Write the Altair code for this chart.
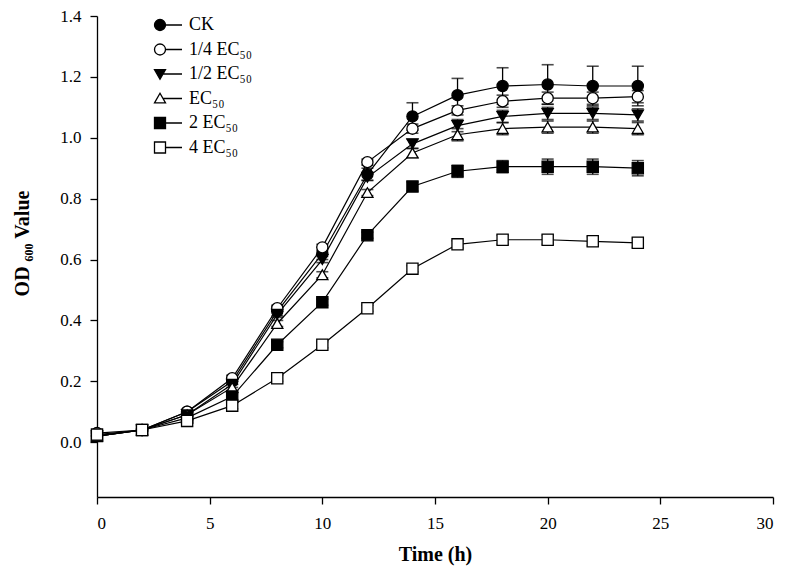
import altair as alt
import pandas as pd

time_h = [0, 2, 4, 6, 8, 10, 12, 14, 16, 18, 20, 22, 24]
series_names = ["CK", "1/4 EC₅₀", "1/2 EC₅₀", "EC₅₀", "2 EC₅₀", "4 EC₅₀"]

ck = [0.02, 0.04, 0.10, 0.20, 0.43, 0.62, 0.88, 1.07, 1.14, 1.17, 1.175, 1.17, 1.17]
q14 = [0.03, 0.04, 0.10, 0.21, 0.44, 0.64, 0.92, 1.03, 1.09, 1.12, 1.13, 1.13, 1.135]
q12 = [0.02, 0.04, 0.09, 0.19, 0.42, 0.60, 0.87, 0.98, 1.04, 1.07, 1.08, 1.08, 1.075]
ec50 = [0.02, 0.04, 0.09, 0.18, 0.39, 0.55, 0.82, 0.95, 1.01, 1.03, 1.035, 1.035, 1.03]
ec2 = [0.02, 0.04, 0.08, 0.15, 0.32, 0.46, 0.68, 0.84, 0.89, 0.905, 0.905, 0.905, 0.90]
ec4 = [0.025, 0.04, 0.07, 0.12, 0.21, 0.32, 0.44, 0.57, 0.65, 0.665, 0.665, 0.66, 0.655]

ck_err = [0.005, 0.005, 0.008, 0.01, 0.015, 0.02, 0.02, 0.045, 0.055, 0.06, 0.065, 0.065, 0.065]
q14_err = [0.005, 0.005, 0.005, 0.01, 0.01, 0.01, 0.01, 0.015, 0.015, 0.02, 0.02, 0.02, 0.02]
q12_err = [0.005, 0.005, 0.005, 0.01, 0.01, 0.01, 0.01, 0.015, 0.02, 0.02, 0.02, 0.02, 0.02]
ec50_err = [0.005, 0.005, 0.005, 0.01, 0.01, 0.01, 0.01, 0.015, 0.02, 0.02, 0.02, 0.02, 0.02]
ec2_err = [0.005, 0.005, 0.005, 0.01, 0.01, 0.01, 0.01, 0.015, 0.02, 0.02, 0.025, 0.025, 0.025]
ec4_err = [0.005, 0.005, 0.005, 0.01, 0.01, 0.01, 0.01, 0.01, 0.012, 0.015, 0.015, 0.015, 0.015]

all_vals = [ck, q14, q12, ec50, ec2, ec4]
all_errs = [ck_err, q14_err, q12_err, ec50_err, ec2_err, ec4_err]

rows = []
for name, vals, errs in zip(series_names, all_vals, all_errs):
    for t, v, e in zip(time_h, vals, errs):
        rows.append({"series": name, "time": t, "od": v, "lo": v - e, "hi": v + e})
df = pd.DataFrame(rows)

FONT = "Liberation Serif"

x_enc = alt.X("time:Q",
              scale=alt.Scale(domain=[0, 30], nice=False),
              axis=alt.Axis(values=[0, 5, 10, 15, 20, 25, 30], format="d", title="Time (h)"))
y_enc = alt.Y("od:Q",
              scale=alt.Scale(domain=[-0.18, 1.4], nice=False, zero=False),
              axis=alt.Axis(values=[0, 0.2, 0.4, 0.6, 0.8, 1.0, 1.2, 1.4], format=".1f",
                            title="OD ₆₀₀ Value", titleX=-65, titleY=227))

shape_scale = alt.Scale(domain=series_names,
                        range=["circle", "circle", "triangle-down", "triangle-up", "square", "square"])
fill_scale = alt.Scale(domain=series_names,
                       range=["black", "white", "black", "white", "black", "white"])
stroke_scale = alt.Scale(domain=series_names, range=["black"] * 6)
legend_paths = [
    "M-1,0A1,1,0,1,0,1,0A1,1,0,1,0,-1,0Z M1,0L4,0",
    "M-1,0A1,1,0,1,0,1,0A1,1,0,1,0,-1,0Z M1,0L4,0",
    "M-1,-0.8L1,-0.8L0,0.95Z M0.5,0L4,0",
    "M-1,0.8L1,0.8L0,-0.95Z M0.54,0L4,0",
    "M-1,-1L1,-1L1,1L-1,1Z M1,0L4,0",
    "M-1,-1L1,-1L1,1L-1,1Z M1,0L4,0",
]

base = alt.Chart(df)

lines = base.mark_line(color="black", strokeWidth=1.2).encode(
    x=x_enc, y=y_enc, detail="series:N", order="time:Q")
err = base.mark_rule(color="black", strokeWidth=1.3).encode(
    x="time:Q", y="lo:Q", y2="hi:Q")
cap_hi = base.mark_tick(color="black", thickness=1.6, size=12, orient="horizontal").encode(
    x="time:Q", y="hi:Q")
cap_lo = base.mark_tick(color="black", thickness=1.6, size=12, orient="horizontal").encode(
    x="time:Q", y="lo:Q")
points = base.mark_point(filled=True, stroke="black", strokeWidth=1.3, size=125, opacity=1).encode(
    x="time:Q", y="od:Q",
    shape=alt.Shape("series:N", scale=shape_scale, legend=None),
    fill=alt.Fill("series:N", scale=fill_scale, legend=None))

leg = alt.Legend(title=None, orient="none", legendX=54, legendY=0,
                 symbolSize=121, symbolStrokeWidth=1.3,
                 labelFont=FONT, labelFontSize=18, labelColor="black",
                 labelOffset=20, rowPadding=6.5, padding=0, symbolOpacity=1)
legend_layer = base.mark_point(filled=True, strokeWidth=1.3, size=121, opacity=0).encode(
    x="time:Q", y="od:Q",
    shape=alt.Shape("series:N", scale=alt.Scale(domain=series_names, range=legend_paths),
                    legend=leg, sort=series_names),
    fill=alt.Fill("series:N", scale=fill_scale, legend=leg, sort=series_names),
    stroke=alt.Stroke("series:N", scale=stroke_scale, legend=leg, sort=series_names))

chart = alt.layer(lines, err, cap_hi, cap_lo, points, legend_layer).resolve_scale(
    shape="independent", fill="independent", stroke="independent"
).properties(
    width=676, height=481,
    autosize=alt.AutoSizeParams(type="none"),
    padding={"left": 89, "top": 8, "right": 10, "bottom": 70},
).configure_view(stroke=None).configure_axis(
    domainColor="black", domainWidth=1.3, tickColor="black", tickWidth=1.3, tickSize=7,
    grid=False, labelFont=FONT, labelFontSize=17, labelColor="black",
    titleFont=FONT, titleFontSize=20, titleFontWeight="bold", titleColor="black",
).configure_axisY(titlePadding=22, labelPadding=9).configure_axisX(titlePadding=13, labelPadding=11)

chart.save("out.html", embed_options={"renderer": "svg", "actions": False})
